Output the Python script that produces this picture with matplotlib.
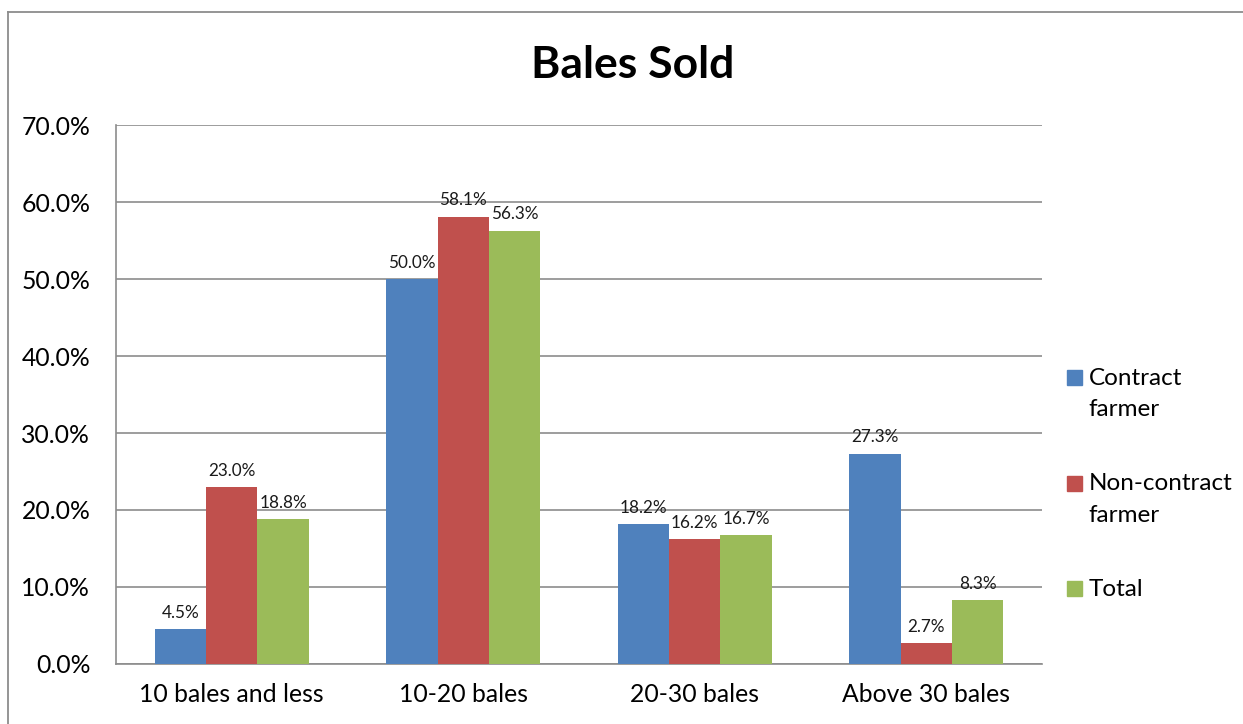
import numpy as np
import matplotlib
matplotlib.use('Agg')
from matplotlib import pyplot as plt
from matplotlib.lines import Line2D
from matplotlib.patches import Rectangle
import matplotlib.ticker as mtick

plt.rcParams['font.family'] = ['Lato', 'DejaVu Sans']

categories = ['10 bales and less', '10-20 bales', '20-30 bales', 'Above 30 bales']
contract = [4.5, 50.0, 18.2, 27.3]
non_contract = [23.0, 58.1, 16.2, 2.7]
total = [18.8, 56.3, 16.7, 8.3]

series_names = ['Contract\nfarmer', 'Non-contract\nfarmer', 'Total']
colors = ['#4F81BD', '#C0504D', '#9BBB59']
grid_color = '#8C8C8C'

fig = plt.figure(figsize=(12.43, 7.24), dpi=100)
ax = fig.add_axes([0.0933, 0.0829, 0.745, 0.7444])

x = np.arange(len(categories))
width = 0.222
for i, (vals, c) in enumerate(zip([contract, non_contract, total], colors)):
    pos = x + (i - 1) * width
    bars = ax.bar(pos, vals, width, color=c, zorder=3)
    for b, v in zip(bars, vals):
        ax.annotate('%.1f%%' % v, (b.get_x() + b.get_width() / 2, v),
                    xytext=(0, 6), textcoords='offset points',
                    ha='center', va='bottom', fontsize=12.3, color='#1a1a1a')

ax.set_xlim(-0.5, len(categories) - 0.5)
ax.set_ylim(0, 70)
ax.set_yticks(np.arange(0, 71, 10))
ax.yaxis.set_major_formatter(mtick.FormatStrFormatter('%.1f%%'))
ax.set_xticks(x)
ax.set_xticklabels(categories)
ax.tick_params(axis='both', length=0, labelsize=17.8, colors='#000000')
ax.tick_params(axis='x', pad=14)
ax.tick_params(axis='y', pad=18.5)
ax.grid(axis='y', color=grid_color, linewidth=1.2, zorder=0)

for side in ['top', 'right']:
    ax.spines[side].set_visible(False)
for side in ['left', 'bottom']:
    ax.spines[side].set_color(grid_color)
    ax.spines[side].set_linewidth(1.2)

fig.text(0.509, 0.91, 'Bales Sold', ha='center', va='center',
         fontsize=32, fontweight='bold')

# legend drawn by hand so the swatch sits on the first text line
leg_y = [0.479, 0.333, 0.187]
for name, c, yy in zip(series_names, colors, leg_y):
    fig.patches.append(Rectangle((0.8587, yy - 0.0105), 0.0121, 0.0207,
                                 transform=fig.transFigure, color=c))
    fig.text(0.876, yy + 0.013, name, ha='left', va='top',
             fontsize=17.5, linespacing=1.62)

# outer chart border (cropped on right and bottom)
fig.add_artist(Line2D([0.0068, 0.0068], [0.0, 0.9834],
                      transform=fig.transFigure, color='#8C8C8C', linewidth=1.3))
fig.add_artist(Line2D([0.0068, 1.0], [0.9834, 0.9834],
                      transform=fig.transFigure, color='#8C8C8C', linewidth=1.3))

plt.savefig('out.png', dpi=100)
